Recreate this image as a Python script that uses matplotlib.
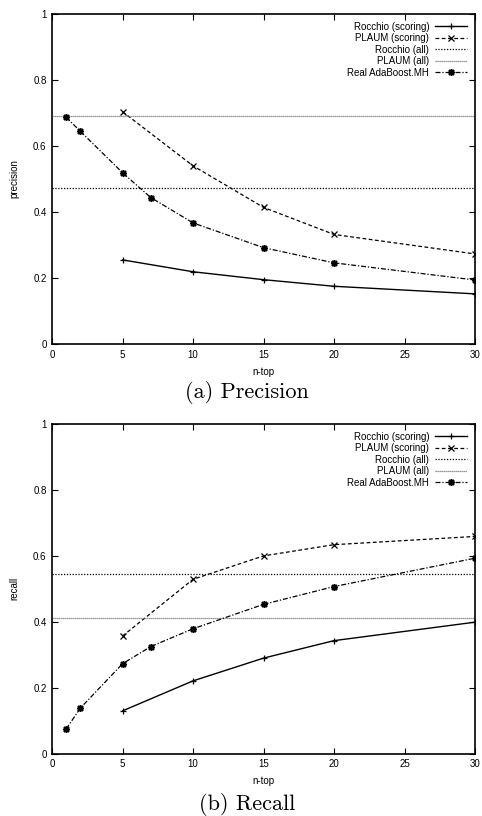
import numpy as np
import matplotlib
matplotlib.use("Agg")
import matplotlib.pyplot as plt

plt.rcParams['font.family'] = ['Liberation Sans', 'DejaVu Sans']

# precision panel
p_x_scoring = [5, 10, 15, 20, 30]
p_rocchio_scoring = [0.255, 0.219, 0.195, 0.175, 0.152]
p_plaum_scoring = [0.704, 0.540, 0.414, 0.332, 0.273]
p_rocchio_all = 0.472
p_plaum_all = 0.691
p_x_ada = [1, 2, 5, 7, 10, 15, 20, 30]
p_ada = [0.687, 0.645, 0.519, 0.444, 0.367, 0.292, 0.246, 0.194]

# recall panel
r_x_scoring = [5, 10, 15, 20, 30]
r_rocchio_scoring = [0.130, 0.221, 0.290, 0.343, 0.399]
r_plaum_scoring = [0.357, 0.529, 0.600, 0.634, 0.659]
r_rocchio_all = 0.545
r_plaum_all = 0.413
r_x_ada = [1, 2, 5, 7, 10, 15, 20, 30]
r_ada = [0.075, 0.138, 0.273, 0.325, 0.379, 0.453, 0.507, 0.593]

xticks = [0, 5, 10, 15, 20, 25, 30]
yticks = [0, 0.2, 0.4, 0.6, 0.8, 1]
ytick_labels = ['0', '0.2', '0.4', '0.6', '0.8', '1']

fig = plt.figure(figsize=(4.82, 8.16), dpi=100)
ax1 = fig.add_axes([0.108, 0.5784, 0.8775, 0.4044])
ax2 = fig.add_axes([0.108, 0.0763, 0.8775, 0.4041])


def draw_panel(ax, xs, rs, ps, r_all, p_all, xa, ada, ylabel):
    ax.plot(xs, rs, color='black', lw=1.0, ls='-', marker='+', ms=5, mew=0.9,
            label='Rocchio (scoring)')
    ax.plot(xs, ps, color='black', lw=0.9, ls=(0, (3, 2)), marker='x', ms=4,
            mew=0.9, label='PLAUM (scoring)')
    ax.axhline(r_all, color='black', lw=0.9, ls=(0, (1, 1.3)), label='Rocchio (all)')
    ax.axhline(p_all, color='#777777', lw=0.9, ls=(0, (1, 0.6)), label='PLAUM (all)')
    ax.plot(xa, ada, color='black', lw=0.9, ls=(0, (4, 1.5, 1, 1.5)),
            marker=(8, 2, 0), ms=5, mew=1.1, label='Real AdaBoost.MH')

    ax.set_xlim(0, 30)
    ax.set_ylim(0, 1)
    ax.set_xticks(xticks)
    ax.set_yticks(yticks)
    ax.set_yticklabels(ytick_labels)
    ax.tick_params(direction='in', length=4, width=0.8, labelsize=7,
                   top=True, right=True, pad=4)
    for s in ax.spines.values():
        s.set_linewidth(1.2)
    ax.set_xlabel('n-top', fontsize=7, labelpad=5)
    ax.set_ylabel(ylabel, fontsize=7, labelpad=10)

    # markerfirst=False puts the sample on the right and right-aligns the text
    ax.legend(loc='upper right', frameon=False, markerfirst=False,
              fontsize=7, handlelength=3.3, handletextpad=0.6,
              labelspacing=0.15, borderaxespad=0.4)


draw_panel(ax1, p_x_scoring, p_rocchio_scoring, p_plaum_scoring, p_rocchio_all,
           p_plaum_all, p_x_ada, p_ada, 'precision')
draw_panel(ax2, r_x_scoring, r_rocchio_scoring, r_plaum_scoring, r_rocchio_all,
           r_plaum_all, r_x_ada, r_ada, 'recall')

fig.text(247 / 482, 1 - 392 / 816, '(a) Precision', ha='center', va='center',
         fontsize=16, family='cmr10')
fig.text(247 / 482, 1 - 805 / 816, '(b) Recall', ha='center', va='center',
         fontsize=16, family='cmr10')

fig.savefig('out.png', dpi=100)
